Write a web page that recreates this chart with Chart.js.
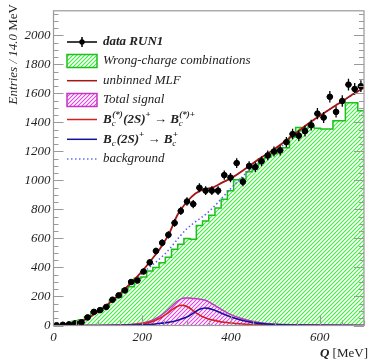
<!DOCTYPE html>
<html>
<head>
<meta charset="utf-8">
<script src="https://cdn.jsdelivr.net/npm/chart.js@4.4.1/dist/chart.umd.min.js"></script>
<style>
  html, body { margin: 0; padding: 0; background: #fff; }
</style>
</head>
<body>
<canvas id="c" width="369" height="360"></canvas>
<script>
// bin centres, 14 MeV bins
const binCenters = [7, 21, 35, 49, 63, 77, 91, 105, 119, 133, 147, 161, 175, 189, 203, 217, 231, 245, 259, 273,
  287, 301, 315, 329, 343, 357, 371, 385, 399, 413, 427, 441, 455, 469, 483, 497, 511, 525, 539, 553,
  567, 581, 595, 609, 623, 637, 651, 665, 679, 693];

// wrong-charge combinations (histogram)
const wrongCharge = [3, 5, 12, 30, 40, 62, 95, 103, 128, 175, 195, 250, 268, 325, 335, 375, 400, 432, 470, 525,
  560, 600, 595, 690, 720, 760, 810, 870, 930, 1005, 1010, 1060, 1100, 1150, 1160, 1185, 1225, 1225, 1300, 1365,
  1360, 1372, 1360, 1355, 1355, 1411, 1411, 1536, 1536, 1480];

// data RUN1
const dataCounts = [2, 5, 8, 15, 22, 56, 94, 106, 128, 178, 208, 242, 300, 310, 372, 435, 514, 570, 625, 707,
  790, 855, 837, 950, 930, 930, 930, 1037, 1020, 1120, 991, 1100, 1092, 1132, 1173, 1200, 1207, 1264, 1320, 1309,
  1340, 1381, 1461, 1434, 1577, 1473, 1548, 1661, 1631, 1650];
const dataErrors = [1.4, 2.2, 2.8, 3.9, 4.7, 7.5, 9.7, 10.3, 11.3, 13.3, 14.4, 15.6, 17.3, 17.6, 19.3, 20.9, 22.7, 23.9, 25, 26.6,
  28.1, 29.2, 28.9, 30.8, 30.5, 30.5, 30.5, 32.2, 31.9, 33.5, 31.5, 33.2, 33, 33.6, 34.2, 34.6, 34.7, 35.6, 36.3, 36.2,
  36.6, 37.2, 38.2, 37.9, 39.7, 38.4, 39.3, 40.8, 40.4, 40.6];

// signal components
const sigX = [0, 100, 150, 180, 200, 220, 240, 255, 270, 280, 288, 295, 305, 315, 325, 335, 341, 350, 360, 370,
  385, 400, 420, 450, 480, 520, 560, 600, 650, 700];
const sigStar = [0, 0, 2, 6, 12, 25, 50, 80, 115, 133, 140, 137, 124, 102, 80, 62, 55, 45, 37, 30,
  22, 17, 12, 7, 4, 2, 1, 1, 0, 0];
const sigGround = [0, 0, 1, 3, 5, 8, 15, 20, 28, 36, 44, 52, 66, 85, 105, 117, 121, 118, 108, 96,
  77, 58, 40, 20, 10, 5, 3, 2, 1, 0];
const sigTotal = [0, 0, 3, 9, 17, 33, 65, 100, 143, 169, 184, 189, 190, 187, 185, 179, 176, 163, 145, 126,
  99, 75, 52, 27, 14, 7, 4, 3, 1, 0];

// unbinned MLF
const fitX = [0, 20, 40, 60, 80, 100, 120, 140, 160, 180, 200, 220, 240, 260, 280, 300, 320, 340, 360, 380,
  400, 430, 460, 490, 520, 550, 580, 610, 640, 670, 700];
const fitY = [0, 5, 12, 25, 55, 95, 140, 190, 250, 310, 375, 450, 530, 630, 765, 850, 910, 940, 952, 985,
  1015, 1075, 1142, 1200, 1265, 1335, 1405, 1465, 1525, 1585, 1640];

// background
const bkgX = [0, 50, 100, 150, 200, 250, 300, 350, 400, 450, 500, 550, 600, 650, 700];
const bkgY = [0, 15, 95, 217, 360, 490, 665, 785, 945, 1095, 1200, 1330, 1445, 1545, 1640];

const xTicks = [0, 200, 400, 600];
const yTicks = [0, 200, 400, 600, 800, 1000, 1200, 1400, 1600, 1800, 2000];

const SERIF = '"Liberation Serif", "DejaVu Serif", serif';
const canvas = document.getElementById('c');
const mainCtx = canvas.getContext('2d');

function hatch(fg) {
  const t = document.createElement('canvas');
  t.width = 4; t.height = 4;
  const g = t.getContext('2d');
  g.fillStyle = '#fff';
  g.fillRect(0, 0, 4, 4);
  g.strokeStyle = fg;
  g.lineWidth = 1.1;
  g.beginPath();
  g.moveTo(0, 4); g.lineTo(4, 0);
  g.moveTo(-1, 1); g.lineTo(1, -1);
  g.moveTo(3, 5); g.lineTo(5, 3);
  g.stroke();
  return mainCtx.createPattern(t, 'repeat');
}
const greenHatch = hatch('#3cf03c');
const pinkHatch = hatch('#e040e0');

const pts = (xs, ys) => xs.map((v, i) => ({ x: v, y: ys[i] }));
const histPts = [{ x: 0, y: wrongCharge[0] }]
  .concat(pts(binCenters, wrongCharge))
  .concat([{ x: 700, y: wrongCharge[wrongCharge.length - 1] }]);

// rich text: parts are {t, f} or {sup, sub}
function drawRich(ctx, x, y, parts) {
  ctx.textBaseline = 'middle';
  ctx.textAlign = 'left';
  let cx = x;
  parts.forEach(p => {
    if (p.t !== undefined) {
      ctx.font = p.f;
      ctx.fillText(p.t, cx, y + (p.dy || 0));
      cx += ctx.measureText(p.t).width;
    } else {
      ctx.font = 'italic bold 9px ' + SERIF;
      let w = 0;
      if (p.sup) { ctx.fillText(p.sup, cx + 0.5, y - 5); w = ctx.measureText(p.sup).width; }
      ctx.font = 'italic 9px ' + SERIF;
      if (p.sub) { ctx.fillText(p.sub, cx, y + 4); w = Math.max(w, ctx.measureText(p.sub).width); }
      cx += w + 1;
    }
  });
}

const decor = {
  id: 'decor',
  afterDatasetsDraw(chart) {
    const { ctx, chartArea: a, scales: { x, y } } = chart;
    ctx.save();
    // error bars
    ctx.strokeStyle = '#000';
    ctx.lineWidth = 1.3;
    binCenters.forEach((c, i) => {
      const px = x.getPixelForValue(c), py = y.getPixelForValue(dataCounts[i]);
      ctx.beginPath();
      ctx.moveTo(px, y.getPixelForValue(dataCounts[i] - dataErrors[i]));
      ctx.lineTo(px, y.getPixelForValue(dataCounts[i] + dataErrors[i]));
      ctx.moveTo(x.getPixelForValue(c - 7), py);
      ctx.lineTo(x.getPixelForValue(c + 7), py);
      ctx.stroke();
    });
    // frame and inward ticks
    ctx.strokeStyle = '#9a9a9a';
    ctx.lineWidth = 1.2;
    ctx.strokeRect(a.left, a.top, a.right - a.left, a.bottom - a.top);
    ctx.beginPath();
    for (let v = 0; v <= 2150; v += 50) {
      const len = v % 200 === 0 ? 10 : 5;
      const py = Math.round(y.getPixelForValue(v)) + 0.5;
      ctx.moveTo(a.left, py); ctx.lineTo(a.left + len, py);
      ctx.moveTo(a.right, py); ctx.lineTo(a.right - len, py);
    }
    for (let v = 50; v <= 700; v += 50) {
      const len = v % 200 === 0 ? 10 : 5;
      const px = Math.round(x.getPixelForValue(v)) + 0.5;
      ctx.moveTo(px, a.bottom); ctx.lineTo(px, a.bottom - len);
    }
    ctx.stroke();
    ctx.restore();
  },
  afterDraw(chart) {
    const { ctx } = chart;
    ctx.save();
    ctx.fillStyle = '#222';
    // y title
    ctx.translate(14, 4);
    ctx.rotate(-Math.PI / 2);
    ctx.textBaseline = 'middle';
    ctx.textAlign = 'right';
    ctx.font = '13px ' + SERIF;
    ctx.fillText('MeV', 0, 0);
    const wm = ctx.measureText('MeV ').width;
    ctx.font = 'italic 13px ' + SERIF;
    ctx.fillText('Entries / 14.0', -wm, 0);
    ctx.setTransform(1, 0, 0, 1, 0, 0);
    // x title
    ctx.textAlign = 'right';
    ctx.font = '13px ' + SERIF;
    ctx.fillText('[MeV]', 368, 354);
    const wb = ctx.measureText(' [MeV]').width;
    ctx.font = 'italic bold 13px ' + SERIF;
    ctx.fillText('Q', 368 - wb, 354);

    // legend
    const lx0 = 67, lx1 = 97, tx = 103;
    const rows = [42, 61, 80.7, 100, 119.5, 139.3, 159];
    // data
    ctx.strokeStyle = '#000';
    ctx.lineWidth = 1.5;
    ctx.beginPath();
    ctx.moveTo(lx0, rows[0]); ctx.lineTo(lx1, rows[0]);
    ctx.moveTo(82, rows[0] - 5); ctx.lineTo(82, rows[0] + 5);
    ctx.stroke();
    ctx.fillStyle = '#000';
    ctx.beginPath(); ctx.arc(82, rows[0], 2.7, 0, Math.PI * 2); ctx.fill();
    // boxes
    ctx.fillStyle = greenHatch;
    ctx.fillRect(lx0, rows[1] - 6.5, lx1 - lx0, 13);
    ctx.strokeStyle = '#1cbf1c';
    ctx.strokeRect(lx0, rows[1] - 6.5, lx1 - lx0, 13);
    ctx.fillStyle = pinkHatch;
    ctx.fillRect(lx0, rows[3] - 6.5, lx1 - lx0, 13);
    ctx.strokeStyle = '#c236c2';
    ctx.strokeRect(lx0, rows[3] - 6.5, lx1 - lx0, 13);
    // lines
    const seg = (yy, col, dash) => {
      ctx.strokeStyle = col;
      ctx.setLineDash(dash || []);
      ctx.beginPath(); ctx.moveTo(lx0, yy); ctx.lineTo(lx1, yy); ctx.stroke();
      ctx.setLineDash([]);
    };
    seg(rows[2], '#a51515');
    seg(rows[4], '#d42020');
    seg(rows[5], '#12129c');
    seg(rows[6], '#6a6af2', [1.5, 2.5]);
    // texts
    ctx.fillStyle = '#222';
    const it = 'italic 13px ' + SERIF, bi = 'italic bold 13px ' + SERIF, sm = 'italic bold 9px ' + SERIF;
    drawRich(ctx, tx, rows[0], [{ t: 'data RUN1', f: bi }]);
    drawRich(ctx, tx, rows[1], [{ t: 'Wrong-charge combinations', f: it }]);
    drawRich(ctx, tx, rows[2], [{ t: 'unbinned MLF', f: it }]);
    drawRich(ctx, tx, rows[3], [{ t: 'Total signal', f: it }]);
    drawRich(ctx, tx, rows[4], [
      { t: 'B', f: bi }, { sup: '(*)', sub: 'c' }, { t: '(2S)', f: bi }, { t: '+', f: sm, dy: -5 },
      { t: ' \u2192 ', f: bi }, { t: 'B', f: bi }, { sup: '(*)+', sub: 'c' }
    ]);
    drawRich(ctx, tx, rows[5], [
      { t: 'B', f: bi }, { sub: 'c' }, { t: '(2S)', f: bi }, { t: '+', f: sm, dy: -5 },
      { t: ' \u2192 ', f: bi }, { t: 'B', f: bi }, { sup: '+', sub: 'c' }
    ]);
    drawRich(ctx, tx, rows[6], [{ t: 'background', f: it }]);
    ctx.restore();
  }
};

new Chart(canvas, {
  type: 'line',
  data: {
    datasets: [
      {
        label: 'data RUN1', data: pts(binCenters, dataCounts), showLine: false,
        pointRadius: 2.8, pointBackgroundColor: '#000', pointBorderColor: '#000', order: 0
      },
      {
        label: 'unbinned MLF', data: pts(fitX, fitY), borderColor: '#a51515', borderWidth: 1.8,
        pointRadius: 0, fill: false, cubicInterpolationMode: 'monotone', order: 1
      },
      {
        label: 'Bc(2S)+ -> Bc+', data: pts(sigX, sigGround), borderColor: '#12129c', borderWidth: 1.6,
        pointRadius: 0, fill: false, cubicInterpolationMode: 'monotone', order: 2
      },
      {
        label: 'Bc(*)(2S)+ -> Bc(*)+', data: pts(sigX, sigStar), borderColor: '#d42020', borderWidth: 1.6,
        pointRadius: 0, fill: false, cubicInterpolationMode: 'monotone', order: 3
      },
      {
        label: 'background', data: pts(bkgX, bkgY), borderColor: '#5a5af0', borderWidth: 1.5,
        borderDash: [1.5, 2.5], pointRadius: 0, fill: false, cubicInterpolationMode: 'monotone', order: 4
      },
      {
        label: 'Total signal', data: pts(sigX, sigTotal), borderColor: '#c236c2', borderWidth: 1.5,
        backgroundColor: pinkHatch, pointRadius: 0, fill: 'origin', cubicInterpolationMode: 'monotone', order: 5
      },
      {
        label: 'Wrong-charge combinations', data: histPts, borderColor: '#1cbf1c', borderWidth: 1.5,
        backgroundColor: greenHatch, pointRadius: 0, fill: 'origin', stepped: 'middle', order: 6
      }
    ]
  },
  options: {
    responsive: false,
    animation: false,
    layout: { padding: { top: 7, right: 0, left: 0, bottom: 0 } },
    plugins: { legend: { display: false }, tooltip: { enabled: false } },
    scales: {
      x: {
        type: 'linear', min: 0, max: 700,
        grid: { display: false, drawTicks: false }, border: { display: false },
        afterBuildTicks: s => { s.ticks = xTicks.map(v => ({ value: v })); },
        afterFit: s => { s.height = 34.5; },
        ticks: {
          padding: 4, color: '#222', maxRotation: 0, callback: v => String(v),
          font: { family: SERIF, size: 13, style: 'italic' }
        }
      },
      y: {
        type: 'linear', min: 0, max: 2170,
        grid: { display: false, drawTicks: false }, border: { display: false },
        afterBuildTicks: s => { s.ticks = yTicks.map(v => ({ value: v })); },
        afterFit: s => { s.width = 53.5; },
        ticks: {
          padding: 3, color: '#222', callback: v => String(v),
          font: { family: SERIF, size: 13, style: 'italic' }
        }
      }
    }
  },
  plugins: [decor]
});
</script>
</body>
</html>
